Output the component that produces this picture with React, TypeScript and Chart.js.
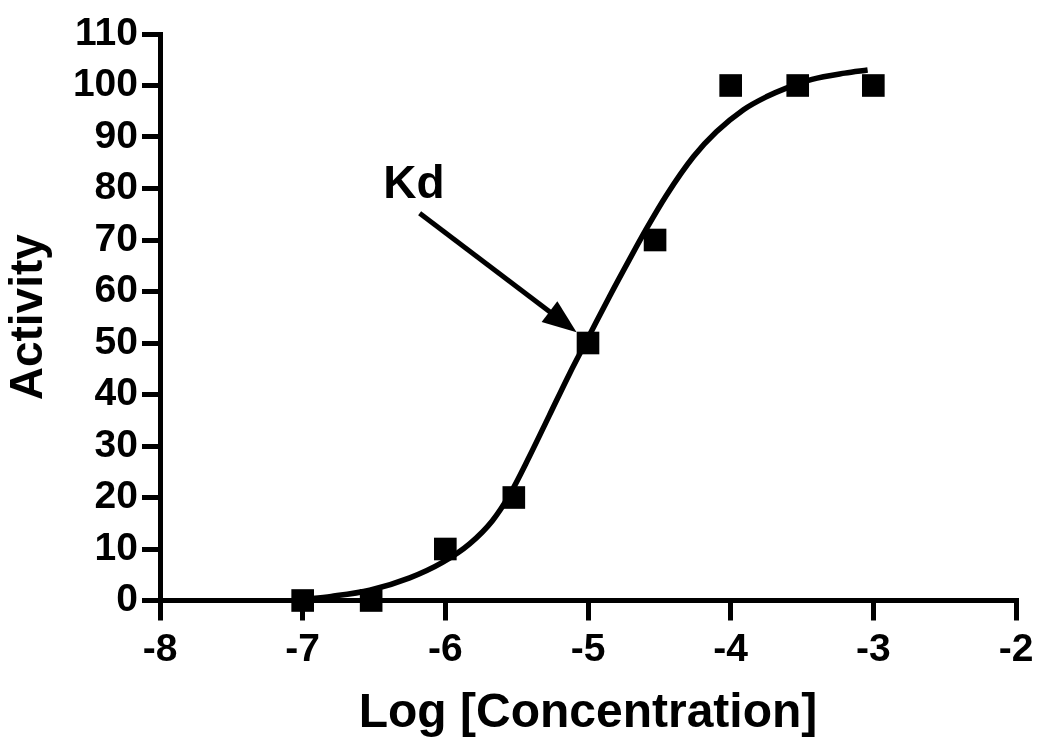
import React, { useEffect, useRef } from "react";
import { Chart, registerables } from "chart.js";

Chart.register(...registerables);

// Measured data points
const concLog = [-7, -6.52, -6, -5.52, -5, -4.53, -4, -3.53, -3];
const activity = [0, 0, 10, 20, 50, 70, 100, 100, 100];

// Fitted curve
const fitLog = [-7.0, -6.8, -6.53, -6.25, -6.02, -5.83, -5.67, -5.55, -5.41, -5.27, -5.13, -4.99, -4.85, -4.71, -4.59, -4.45, -4.26, -4.1, -3.91, -3.75, -3.61, -3.43, -3.2, -3.04];
const fitActivity = [0.2, 0.8, 2.0, 4.4, 7.4, 11.0, 15.5, 20.5, 28.0, 36.0, 44.0, 51.5, 59.0, 66.2, 72.2, 78.7, 86.2, 91.0, 95.3, 97.8, 99.5, 101.2, 102.4, 103];

// Axis settings
const X_MIN = -8;
const X_MAX = -2;
const X_STEP = 1;
const Y_MIN = 0;
const Y_MAX = 110;
const Y_STEP = 10;

const X_TITLE = "Log [Concentration]";
const Y_TITLE = "Activity";

// Annotation (data units)
const KD_LABEL = "Kd";
const KD_LABEL_AT = [-6.22, 80.7];
const KD_ARROW_FROM = [-6.18, 75.2];
const KD_ARROW_TO = [-5.08, 52.1];

const FONT = "'Liberation Sans', Arial, sans-serif";

const kdPlugin = {
  id: "kdAnnotation",
  afterDatasetsDraw(chart: any) {
    const { ctx, scales } = chart;
    const xs = scales.x;
    const ys = scales.y;
    const x0 = xs.getPixelForValue(KD_ARROW_FROM[0]);
    const y0 = ys.getPixelForValue(KD_ARROW_FROM[1]);
    const x1 = xs.getPixelForValue(KD_ARROW_TO[0]);
    const y1 = ys.getPixelForValue(KD_ARROW_TO[1]);
    const ang = Math.atan2(y1 - y0, x1 - x0);
    const headLen = 34;
    const headW = 13;
    const bx = x1 - headLen * Math.cos(ang);
    const by = y1 - headLen * Math.sin(ang);
    ctx.save();
    ctx.strokeStyle = "#000";
    ctx.fillStyle = "#000";
    ctx.lineWidth = 5;
    ctx.beginPath();
    ctx.moveTo(x0, y0);
    ctx.lineTo(bx + 4 * Math.cos(ang), by + 4 * Math.sin(ang));
    ctx.stroke();
    ctx.beginPath();
    ctx.moveTo(x1, y1);
    ctx.lineTo(bx + headW * Math.sin(ang), by - headW * Math.cos(ang));
    ctx.lineTo(bx - headW * Math.sin(ang), by + headW * Math.cos(ang));
    ctx.closePath();
    ctx.fill();
    ctx.font = `bold 46px ${FONT}`;
    ctx.textAlign = "center";
    ctx.textBaseline = "middle";
    ctx.fillText(KD_LABEL, xs.getPixelForValue(KD_LABEL_AT[0]), ys.getPixelForValue(KD_LABEL_AT[1]));
    ctx.restore();
  },
};

export default function App() {
  const ref = useRef<HTMLCanvasElement | null>(null);

  useEffect(() => {
    if (!ref.current) return;
    const chart = new Chart(ref.current, {
      type: "scatter",
      data: {
        datasets: [
          {
            label: "Fit",
            data: fitLog.map((x, i) => ({ x, y: fitActivity[i] })),
            showLine: true,
            borderColor: "#000",
            borderWidth: 5.5,
            pointRadius: 0,
            tension: 0.4,
            cubicInterpolationMode: "monotone",
            clip: false,
          } as any,
          {
            label: "Data",
            data: concLog.map((x, i) => ({ x, y: activity[i] })),
            showLine: false,
            pointStyle: "rect",
            pointRadius: 16,
            backgroundColor: "#000",
            borderColor: "#000",
            borderWidth: 0,
            clip: false,
          } as any,
        ],
      },
      options: {
        responsive: false,
        animation: false,
        layout: { padding: { left: 0, top: 34, right: 34, bottom: 10 } },
        plugins: { legend: { display: false }, tooltip: { enabled: false } },
        scales: {
          x: {
            type: "linear",
            min: X_MIN,
            max: X_MAX,
            afterFit(scale: any) {
              scale.height = 142.5;
            },
            ticks: {
              stepSize: X_STEP,
              color: "#000",
              padding: 6,
              font: { family: FONT, size: 39, weight: "bold" },
            },
            grid: {
              drawOnChartArea: false,
              drawTicks: true,
              tickLength: 20,
              lineWidth: 5,
              color: "#000",
            },
            border: { display: true, color: "#000", width: 5 },
            title: {
              display: true,
              text: X_TITLE,
              color: "#000",
              padding: { top: 0, bottom: 0 },
              font: { family: FONT, size: 48, weight: "bold" },
            },
          },
          y: {
            type: "linear",
            min: Y_MIN,
            max: Y_MAX,
            afterFit(scale: any) {
              scale.width = 160;
            },
            ticks: {
              stepSize: Y_STEP,
              color: "#000",
              padding: 4,
              font: { family: FONT, size: 39, weight: "bold" },
            },
            grid: {
              drawOnChartArea: false,
              drawTicks: true,
              tickLength: 18,
              lineWidth: 5,
              color: "#000",
            },
            border: { display: true, color: "#000", width: 5 },
            title: {
              display: true,
              text: Y_TITLE,
              color: "#000",
              padding: { top: 2, bottom: 0 },
              font: { family: FONT, size: 46, weight: "bold" },
            },
          },
        },
      },
      plugins: [kdPlugin],
    });
    return () => chart.destroy();
  }, []);

  return (
    <div style={{ position: "fixed", left: 0, top: 0, width: 1050, height: 753, background: "#fff" }}>
      <canvas ref={ref} width={1050} height={753} style={{ display: "block" }} />
    </div>
  );
}
